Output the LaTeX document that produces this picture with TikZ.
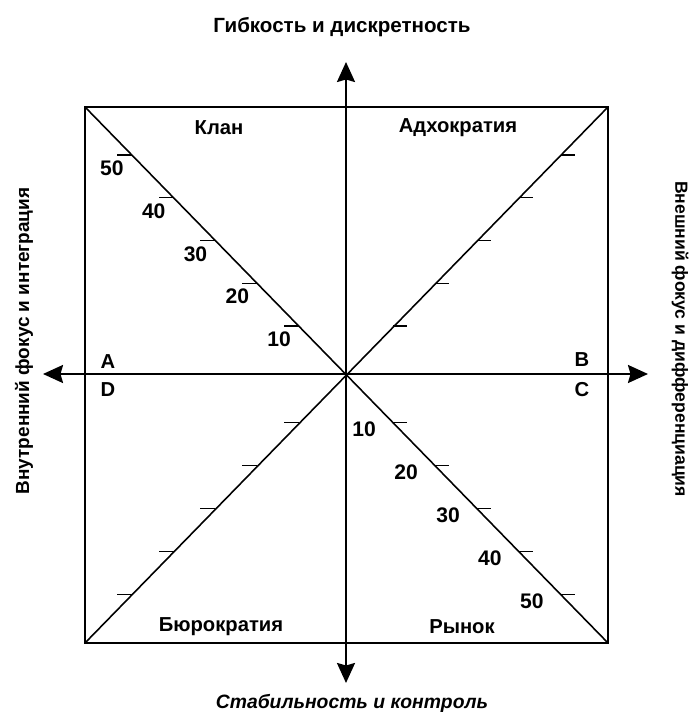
\documentclass[tikz,border=0pt]{standalone}
\usepackage{fontspec}
\setmainfont{Liberation Sans}
\usetikzlibrary{arrows.meta,positioning}

\begin{document}
\begin{tikzpicture}[
        font=\bfseries\fontsize{11.5}{13}\selectfont,
        frame/.style={line width=1.2pt},
        diag/.style={line width=0.9pt},
        ax/.style={{Stealth[length=4mm, width=3.6mm, inset=0.5mm]}-{Stealth[length=4mm, width=3.6mm, inset=0.5mm]},
                   line width=1.3pt},
        tickmark/.style={line width=0.8pt},
        num/.style={inner sep=0pt, font=\bfseries\fontsize{12}{13}\selectfont},
        lbl/.style={inner sep=0pt}
    ]
        \useasboundingbox (-6.92,-7.08) rectangle (7.00,7.48);

        \coordinate (o) at (0,0);
        \coordinate (tl) at (-5.22,5.34);
        \coordinate (tr) at (5.24,5.34);
        \coordinate (br) at (5.24,-5.38);
        \coordinate (bl) at (-5.22,-5.38);
        \coordinate (west) at (-6.06,0);
        \coordinate (east) at (6.04,0);
        \coordinate (north) at (0,6.24);
        \coordinate (south) at (0,-6.18);

        \draw[frame] (tl) -- (tr) -- (br) -- (bl) -- cycle;
        \draw[diag] (tl) -- (br);
        \draw[diag] (bl) -- (tr);
        \draw[ax] (west) -- (east);
        \draw[ax] (south) -- (north);

        \node[lbl, font=\bfseries\fontsize{11.7}{13}\selectfont] (top) at (-0.08,6.94) {Гибкость и дискретность};
        \node[lbl, font=\bfseries\itshape\fontsize{11}{13}\selectfont] (bottom) at (0.12,-6.58) {Стабильность и контроль};
        \node[lbl, rotate=90, font=\bfseries\fontsize{10.8}{13}\selectfont] (left) at (-6.44,0.66) {Внутренний фокус и интеграция};
        \node[lbl, rotate=-90, font=\bfseries\fontsize{10}{13}\selectfont] (right) at (6.68,0.70) {Внешний фокус и дифференциация};

        \node[lbl] (clan) at (-2.54,4.92) {Клан};
        \node[lbl] (adhoc) at (2.24,4.92) {Адхократия};
        \node[lbl] (bureau) at (-2.50,-5.06) {Бюрократия};
        \node[lbl] (market) at (2.32,-5.06) {Рынок};

        \node[lbl] (qa) at (-4.76,0.24) {A};
        \node[lbl] (qb) at (4.72,0.28) {B};
        \node[lbl] (qc) at (4.72,-0.32) {C};
        \node[lbl] (qd) at (-4.76,-0.32) {D};

        \foreach \k in {1,...,5} {
            \pgfmathsetmacro{\t}{0.02+0.16*\k}
            \path (o) -- (tl) coordinate[pos=\t] (c\k);
            \path (o) -- (tr) coordinate[pos=\t] (a\k);
            \path (o) -- (bl) coordinate[pos=\t] (b\k);
            \path (o) -- (br) coordinate[pos=\t] (m\k);
            \draw[tickmark] (c\k) -- ++(-0.30,0);
            \draw[tickmark] (a\k) -- ++(0.28,0);
            \draw[tickmark] (b\k) -- ++(-0.30,0);
            \draw[tickmark] (m\k) -- ++(0.28,0);
            \node[num] (cn\k) at ([shift={(-0.40,-0.27)}]c\k) {\the\numexpr\k*10\relax};
            \node[num] (mn\k) at ([shift={(-0.58,-0.13)}]m\k) {\the\numexpr\k*10\relax};
        }
    \end{tikzpicture}
\end{document}
